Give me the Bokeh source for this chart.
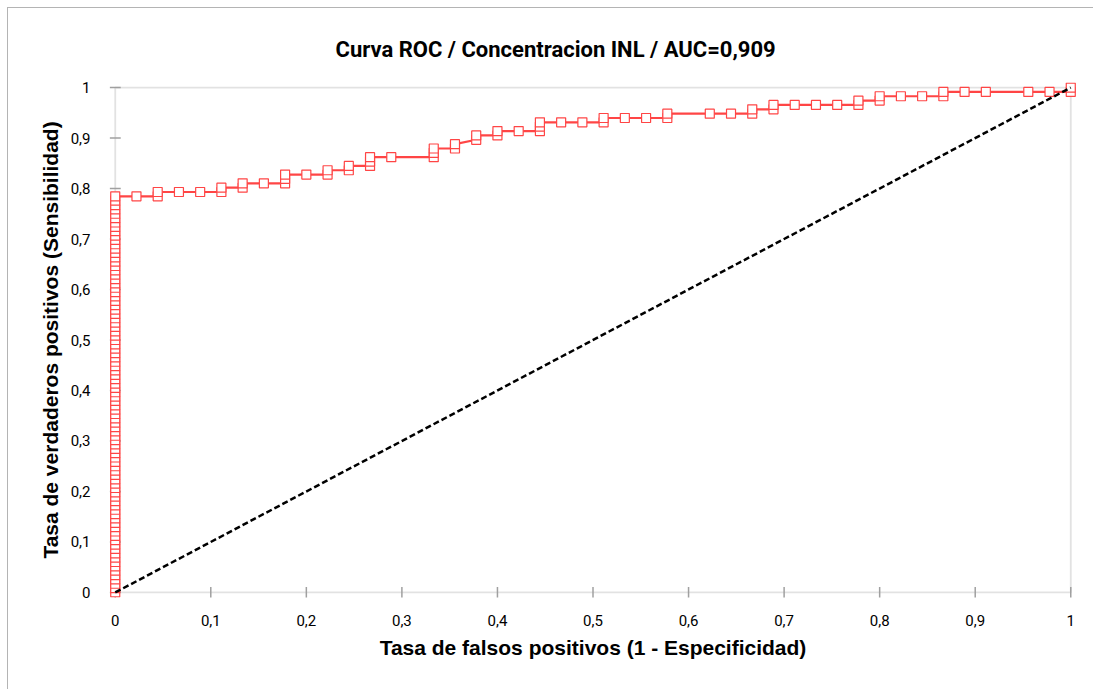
import math
from bokeh.plotting import figure
from bokeh.models import Range1d, FixedTicker, BoxAnnotation
from bokeh.embed import file_html
from bokeh.resources import INLINE

# ---------------- data ----------------
N_POS = 116   # positive cases
N_NEG = 45    # negative cases
# false-positive count at each step and the true-positive counts reached at that step
STEP_FP = [0, 1, 2, 3, 4, 5, 6, 7, 8, 9, 10, 11, 12, 13, 15, 16, 17, 18, 19, 20,
           21, 22, 23, 24, 25, 26, 28, 29, 30, 31, 32, 33, 34, 35, 36, 37, 38, 39,
           40, 41, 43, 44, 45]
STEP_TP = [
    [0, 1, 2, 3, 4, 5, 6, 7, 8, 9, 10, 11, 12, 13, 14, 15, 16, 17, 18, 19, 20,
     21, 22, 23, 24, 25, 26, 27, 28, 29, 30, 31, 32, 33, 34, 35, 36, 37, 38, 39,
     40, 41, 42, 43, 44, 45, 46, 47, 48, 49, 50, 51, 52, 53, 54, 55, 56, 57, 58,
     59, 60, 61, 62, 63, 64, 65, 66, 67, 68, 69, 70, 71, 72, 73, 74, 75, 76, 77,
     78, 79, 80, 81, 82, 83, 84, 85, 86, 87, 88, 89, 90, 91],
    [91], [91, 92], [92], [92], [92, 93], [93, 94], [94], [94, 95, 96], [96],
    [96, 97], [97, 98], [98, 99, 100], [100], [100, 101, 102], [102, 103],
    [104, 105], [105, 106], [106], [106, 107, 108], [108], [108], [108, 109],
    [109], [109], [109, 110], [110], [110], [110, 111], [111, 112], [112], [112],
    [112], [112, 113], [113, 114], [114], [114], [114, 115], [115], [115], [115],
    [115], [115, 116],
]
DIAG_X = [0, 1]
DIAG_Y = [0, 1]
TICKS = [0, 0.1, 0.2, 0.3, 0.4, 0.5, 0.6, 0.7, 0.8, 0.9, 1]
TICK_LABELS = ["0", "0,1", "0,2", "0,3", "0,4", "0,5", "0,6", "0,7", "0,8", "0,9", "1"]

TITLE = "Curva ROC / Concentracion INL / AUC=0,909"
XLABEL = "Tasa de falsos positivos (1 - Especificidad)"
YLABEL = "Tasa de verdaderos positivos (Sensibilidad)"

fpr, tpr = [], []
for fp, tps in zip(STEP_FP, STEP_TP):
    for tp in tps:
        fpr.append(fp / N_NEG)
        tpr.append(tp / N_POS)

# ---------------- figure ----------------
p = figure(width=1086, height=682, output_backend="svg", toolbar_location=None,
           x_range=Range1d(-0.006, 1.006), y_range=Range1d(-0.01, 1.01),
           min_border_left=101, min_border_right=18, min_border_top=74,
           min_border_bottom=93, title=TITLE)
p.styles = {"margin-left": "7px", "margin-top": "7px",
            "border-left": "1px solid #b4b4b4", "border-top": "1px solid #b4b4b4"}
p.outline_line_color = None
p.xgrid.visible = False
p.ygrid.visible = False
p.background_fill_color = "white"
p.border_fill_color = "white"

p.title.align = "left"
p.title.offset = 226
p.title.standoff = 41
p.title.text_font = "Roboto"
p.title.text_font_style = "bold"
p.title.text_font_size = "22px"
p.title.text_color = "black"

# plot-area border (axis lines at 0, frame lines at 1)
frame_box = BoxAnnotation(left=0, right=1, bottom=0, top=1, fill_alpha=0,
                          line_color="#a0a0a0", line_width=1.8, level="underlay")
p.add_layout(frame_box)

overrides = {t: s for t, s in zip(TICKS, TICK_LABELS)}

for ax in (p.xaxis[0], p.yaxis[0]):
    ax.ticker = FixedTicker(ticks=TICKS)
    ax.major_label_overrides = overrides
    ax.axis_line_color = None
    ax.major_tick_line_color = None
    ax.minor_tick_line_color = None
    ax.major_label_text_font = "Roboto"
    ax.major_label_text_font_size = "15px"
    ax.major_label_text_color = "black"
    ax.axis_label_text_font = "Liberation Sans"
    ax.axis_label_text_font_style = "bold"
    ax.axis_label_text_font_size = "21px"
    ax.axis_label_text_color = "black"

p.xaxis[0].axis_label = XLABEL
p.yaxis[0].axis_label = YLABEL
p.xaxis[0].major_label_standoff = 11
p.yaxis[0].major_label_standoff = 13
p.xaxis[0].axis_label_standoff = 7
p.yaxis[0].axis_label_standoff = 6

# tick marks crossing the axis lines
zeros = [0 for _ in TICKS]
p.scatter(TICKS, zeros, marker="dash", size=11, angle=math.pi / 2,
          line_color="#a0a0a0", line_width=1.5, level="underlay")
p.scatter(zeros, TICKS, marker="dash", size=11,
          line_color="#a0a0a0", line_width=1.5, level="underlay")

p.line(fpr, tpr, line_color="#ff4545", line_width=2.2)
p.scatter(fpr, tpr, marker="square", size=9, line_color="#ff4545", line_width=1.2,
          fill_color="white")
p.line(DIAG_X, DIAG_Y, line_color="black", line_width=2.5, line_dash="6 3")

open("out.html", "w").write(file_html(p, INLINE))
